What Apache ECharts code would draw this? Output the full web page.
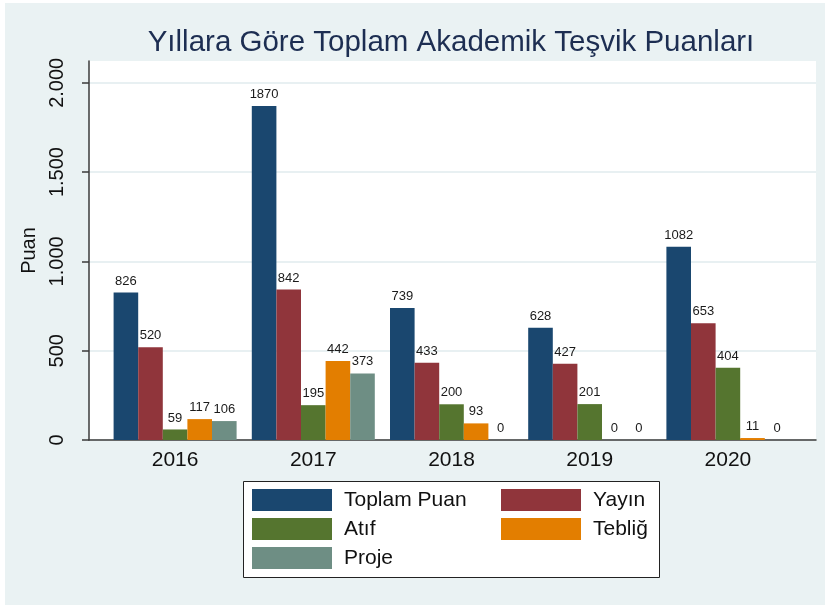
<!DOCTYPE html>
<html>
<head>
<meta charset="utf-8">
<script src="https://cdn.jsdelivr.net/npm/echarts@6/dist/echarts.min.js"></script>
<style>
html, body { margin: 0; padding: 0; background: #fff; }
#chart { width: 825px; height: 605px; }
</style>
</head>
<body>
<div id="chart"></div>
<script>
const years = ["2016", "2017", "2018", "2019", "2020"];
const toplamPuan = [826, 1870, 739, 628, 1082];
const yayin = [520, 842, 433, 427, 653];
const atif = [59, 195, 200, 201, 404];
const teblig = [117, 442, 93, 0, 11];
const proje = [106, 373, 0, 0, 0];
const yTicks = [0, 500, 1000, 1500, 2000];

const font = "Liberation Sans, Arial, sans-serif";
const gridLine = "#e8f0f2";
const axisColor = "#3b3b3b";
const yMax = 2122;

const chart = echarts.init(document.getElementById("chart"), null, { renderer: "canvas" });

function dotted(v) {
	return String(v).replace(/\B(?=(\d{3})+(?!\d))/g, ".");
}

function bar(name, data, color) {
	return {
		name,
		type: "bar",
		data,
		xAxisIndex: 1,
		yAxisIndex: 1,
		barWidth: 24.6,
		barGap: "0%",
		itemStyle: { color },
		label: { show: true, position: "top", distance: 5, fontSize: 13, fontFamily: font, color: "#1a1a1a" },
		emphasis: { disabled: true }
	};
}

function legend(left, names) {
	return {
		orient: "vertical",
		left,
		top: 489,
		padding: 0,
		itemWidth: 80,
		itemHeight: 22,
		itemGap: 7,
		icon: "rect",
		selectedMode: false,
		textStyle: { fontSize: 21, fontFamily: font, color: "#111", padding: [0, 0, 0, 7] },
		data: names
	};
}

const options = {
	animation: false,
	textStyle: { fontFamily: font },
	title: {
		text: "Yıllara Göre Toplam Akademik Teşvik Puanları",
		left: 446,
		top: 23,
		textAlign: "center",
		textStyle: { fontSize: 29.5, fontWeight: "normal", color: "#1d2e52", fontFamily: font }
	},
	graphic: [
		// Stata-style light background and legend box
		{ type: "rect", z: -10, shape: { x: 5, y: 3, width: 820, height: 602 }, style: { fill: "#eaf2f3" } },
		{ type: "rect", z: 0, shape: { x: 243.5, y: 481.5, width: 416, height: 96 }, style: { fill: "#fff", stroke: "#222", lineWidth: 1 } }
	],
	grid: [
		{ left: 89, right: 9, top: 61, bottom: 165, show: true, backgroundColor: "#fff", borderWidth: 0 },
		{ left: 106, right: 28, top: 61, bottom: 165 }
	],
	xAxis: [
		{
			type: "value", gridIndex: 0, min: 0, max: 1,
			axisLine: { show: true, lineStyle: { color: axisColor, width: 1.5 } },
			axisTick: { show: false }, axisLabel: { show: false }, splitLine: { show: false }
		},
		{
			type: "category", gridIndex: 1, data: years,
			axisLine: { show: false }, axisTick: { show: false },
			axisLabel: { fontSize: 21, margin: 10, color: "#111", fontFamily: font }
		}
	],
	yAxis: [
		{
			type: "value", gridIndex: 0, min: 0, max: yMax, interval: 500,
			name: "Puan", nameLocation: "middle", nameGap: 38,
			nameTextStyle: { fontSize: 20, color: "#111", fontFamily: font },
			axisLine: { show: true, lineStyle: { color: axisColor, width: 1.5 } },
			axisTick: { show: true, length: 7, customValues: yTicks, lineStyle: { color: axisColor, width: 1.5 } },
			axisLabel: { rotate: 90, margin: 22, fontSize: 20, color: "#111", fontFamily: font, customValues: yTicks, formatter: dotted },
			splitLine: { show: true, lineStyle: { color: [gridLine, gridLine, gridLine, gridLine, gridLine, "rgba(0,0,0,0)"], width: 2 } }
		},
		{ type: "value", gridIndex: 1, min: 0, max: yMax, show: false, splitLine: { show: false } }
	],
	legend: [
		legend(252, ["Toplam Puan", "Atıf", "Proje"]),
		legend(501, ["Yayın", "Tebliğ"])
	],
	series: [
		bar("Toplam Puan", toplamPuan, "#1a476f"),
		bar("Yayın", yayin, "#90353b"),
		bar("Atıf", atif, "#55752f"),
		bar("Tebliğ", teblig, "#e37e00"),
		bar("Proje", proje, "#6e8e84")
	]
};

chart.setOption(options);
</script>
</body>
</html>
